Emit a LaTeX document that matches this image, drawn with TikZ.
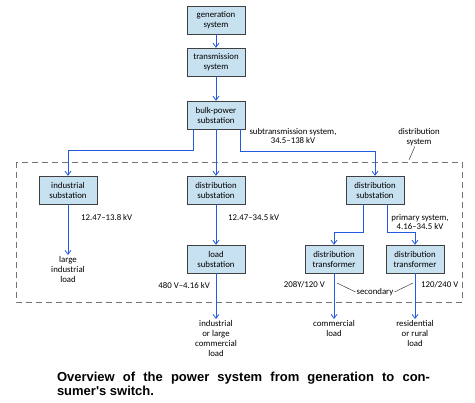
\documentclass[tikz,border=0pt]{standalone}
\usepackage{fontspec}
\setmainfont{Carlito}
\newfontfamily\capfont{Liberation Sans}
\usetikzlibrary{arrows.meta}
\definecolor{boxfill}{RGB}{200,225,240}
\definecolor{flow}{RGB}{35,90,225}
\begin{document}
\begin{tikzpicture}[x=1pt,y=-1pt,
  box/.style={draw=black!75,fill=boxfill,minimum width=58pt,minimum height=28pt,inner sep=1pt,align=center,font=\fontsize{8.8}{10}\selectfont},
  load/.style={align=center,inner sep=1pt,font=\fontsize{8.8}{10}\selectfont},
  lbl/.style={inner sep=1pt,align=center,font=\fontsize{8.8}{9.5}\selectfont},
  pwr/.style={draw=flow,line width=0.8pt,-{Straight Barb[length=4pt,width=6pt]}},
  lead/.style={draw=black!75,line width=0.5pt}]
\useasboundingbox (0,0) rectangle (475,403);
\fill[white] (0,0) rectangle (475,403);
% distribution system frame
\draw[black!55,line width=0.8pt,dash pattern=on 6pt off 4pt] (16,162) rectangle (462,302);

\node[box] (gen) at (216,20) {generation\\system};
\node[box] (trans) at (216,62) {transmission\\system};
\node[box] (bulk) at (216,115) {bulk-power\\substation};
\node[box] (ind) at (68,190) {industrial\\substation};
\node[box] (dsub) at (216,190) {distribution\\substation};
\node[box] (dsubr) at (375,190) {distribution\\substation};
\node[box] (ldsub) at (216,259) {load\\substation};
\node[box] (trl) at (334,259) {distribution\\transformer};
\node[box] (trr) at (415,259) {distribution\\transformer};

% loads
\node[load,anchor=north] (indload) at (68,255) {large\\industrial\\load};
\node[load,anchor=north] (bigload) at (216,319) {industrial\\or large\\commercial\\load};
\node[load,anchor=north] (comload) at (334,319) {commercial\\load};
\node[load,anchor=north] (resload) at (415,319) {residential\\or rural\\load};

\draw[pwr] (gen) -- (trans);
\draw[pwr] (trans) -- (bulk);
\draw[pwr] ([xshift=-23pt]bulk.south) -- ++(0,21) -| (ind);
\draw[pwr] (bulk) -- (dsub);
\draw[pwr] ([xshift=24pt]bulk.south) -- ++(0,22) -| (dsubr);
\draw[pwr] (ind) -- (indload);
\draw[pwr] (dsub) -- (ldsub);
\draw[pwr] (ldsub) -- (bigload);
\draw[pwr] ([xshift=-12pt]dsubr.south) -- ++(0,28) -| (trl);
\draw[pwr] ([xshift=12pt]dsubr.south) -- ++(0,28) -| (trr);
\draw[pwr] (trl) -- (comload);
\draw[pwr] (trr) -- (resload);

% voltages
\node[lbl] (subtr) at (293,136) {subtransmission system,\\34.5--138 kV};
\node[lbl] (dsys) at (419,137) {distribution\\system};
\coordinate (dsysend) at (409,160);
\draw[lead] (dsys) -- (dsysend);
\node[lbl,anchor=west] (v1) at (80,217) {12.47--13.8 kV};
\node[lbl,anchor=west] (v2) at (227,217) {12.47--34.5 kV};
\node[lbl,anchor=east] (v3) at (211,285) {480 V--4.16 kV};
\node[lbl] (prim) at (420,222) {primary system,\\4.16--34.5 kV};
\node[lbl,anchor=east] (v4) at (326,285) {208Y/120 V};
\node[lbl,anchor=west] (v5) at (420,285) {120/240 V};
\node[lbl] (sec) at (375,292) {secondary};
\coordinate (secl) at (337,283);
\coordinate (secr) at (413,283);
\draw[lead] (secl) -- (sec.west);
\draw[lead] (sec.east) -- (secr);

\node[text width=373pt,align=justify,inner sep=0pt,font=\capfont\bfseries\fontsize{13}{14}\selectfont] (cap) at (243.5,384) {Overview of the power system from generation to con-\linebreak sumer's switch.};
\end{tikzpicture}
\end{document}
